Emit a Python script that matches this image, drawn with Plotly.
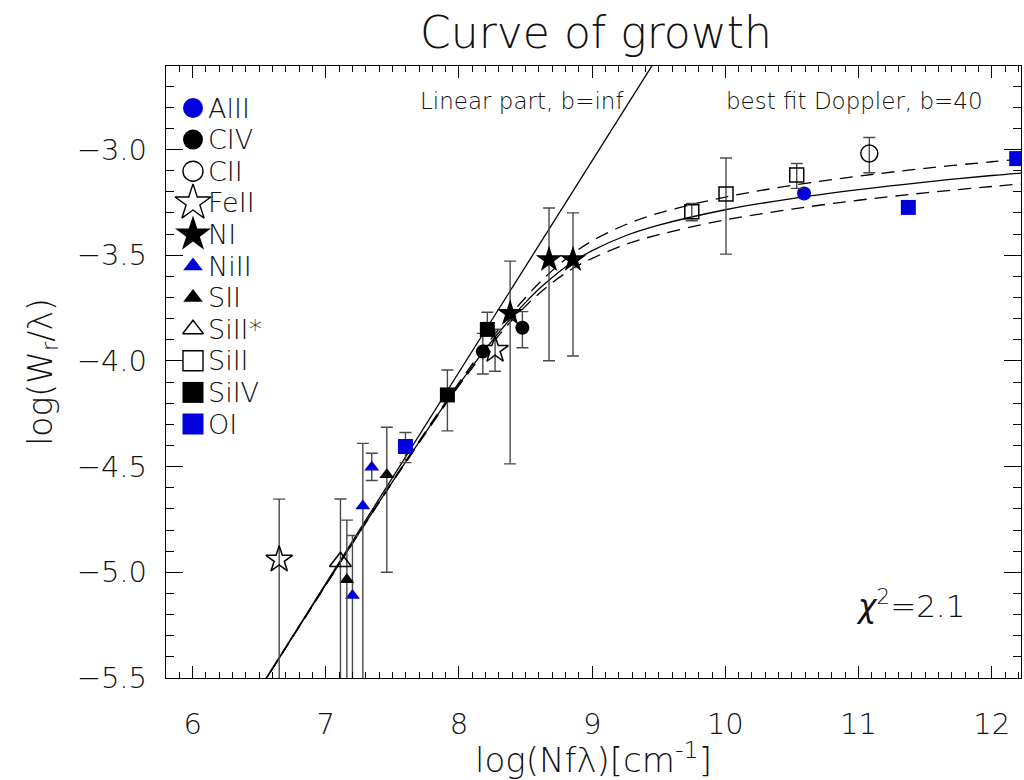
import plotly.graph_objects as go

# ---------------- measured lines (log Nf lambda, log W/lambda) ----------------
# species: x, y, upper error end, lower error end
alii_x = [10.591]
alii_y = [-3.208]
alii_hi = [-3.190]
alii_lo = [-3.226]

civ_x = [8.179, 8.476]
civ_y = [-3.956, -3.843]
civ_hi = [-3.870, -3.767]
civ_lo = [-4.062, -3.938]

cii_x = [11.081]
cii_y = [-3.019]
cii_hi = [-2.943]
cii_lo = [-3.110]

feii_x = [6.650, 8.271]
feii_y = [-4.940, -3.948]
feii_hi = [-4.654, -3.850]
feii_lo = [-5.900, -4.049]

ni_x = [8.384, 8.676, 8.856]
ni_y = [-3.775, -3.521, -3.521]
ni_hi = [-3.528, -3.277, -3.300]
ni_lo = [-4.487, -3.999, -3.977]

niii_x = [7.200, 7.278, 7.345]
niii_y = [-5.110, -4.686, -4.503]
niii_hi = [-4.826, -4.390, -4.437]
niii_lo = [-5.900, -5.900, -4.566]

sii_x = [7.158, 7.458]
sii_y = [-5.035, -4.539]
sii_hi = [-4.753, -4.314]
sii_lo = [-5.900, -5.000]

siiis_x = [7.110]
siiis_y = [-4.950]
siiis_hi = [-4.653]
siiis_lo = [-5.900]

siii_x = [9.748, 10.005, 10.536]
siii_y = [-3.295, -3.211, -3.121]
siii_hi = [-3.255, -3.040, -3.066]
siii_lo = [-3.337, -3.495, -3.184]

siiv_x = [7.913, 8.213]
siiv_y = [-4.161, -3.851]
siiv_hi = [-4.043, -3.770]
siiv_lo = [-4.331, -3.880]

oi_x = [7.598, 11.374, 12.188]
oi_y = [-4.405, -3.274, -3.043]
oi_hi = [-4.339, -3.245, -3.023]
oi_lo = [-4.481, -3.300, -3.063]

# ---------------- curves of growth ----------------
# linear part (b = inf)
lin_x = [6.40, 9.60]
lin_y = [-5.653, -2.453]

# Doppler curves: best fit (solid) and the two bounding ones (dashed)
cog_x = [6.5, 7.0, 7.5, 8.0, 8.2, 8.4, 8.5, 8.6, 8.7, 8.8, 8.9, 9.0,
         9.25, 9.5, 10.0, 10.5, 11.0, 11.5, 12.0, 12.25]
cog_best = [-5.555, -5.059, -4.572, -4.111, -3.943, -3.791, -3.723, -3.660,
            -3.605, -3.556, -3.514, -3.478, -3.408, -3.358, -3.285, -3.232,
            -3.190, -3.154, -3.123, -3.110]
cog_high = [-5.555, -5.058, -4.569, -4.103, -3.930, -3.772, -3.700, -3.633,
            -3.573, -3.519, -3.472, -3.432, -3.356, -3.301, -3.225, -3.170,
            -3.126, -3.089, -3.058, -3.044]
cog_low = [-5.556, -5.060, -4.575, -4.117, -3.954, -3.806, -3.741, -3.682,
           -3.630, -3.585, -3.546, -3.515, -3.449, -3.403, -3.333, -3.282,
           -3.240, -3.205, -3.175, -3.161]

FONT = "DejaVu Sans"
TXT = "#111"
BLUE = "#0000dd"
ERR = "#4a4a4a"

# figure geometry (pixels)
W, H = 1024, 780
ML, MR, MT, MB = 166, 3, 66, 102
PW, PH = W - ML - MR, H - MT - MB

# key drawn in the upper-left corner of the frame (pixel offsets inside the frame)
KEY_X, KEY_TEXT_X, KEY_TOP, KEY_STEP = 27, 40, 42, 31.6

fig = go.Figure()

# model curves
fig.add_trace(go.Scatter(x=lin_x, y=lin_y, mode="lines", showlegend=False,
                         line=dict(color="black", width=1.3), hoverinfo="skip"))
fig.add_trace(go.Scatter(x=cog_x, y=cog_best, mode="lines", showlegend=False,
                         line=dict(color="black", width=1.3, shape="spline"),
                         hoverinfo="skip"))
for ys in (cog_high, cog_low):
    fig.add_trace(go.Scatter(x=cog_x, y=ys, mode="lines", showlegend=False,
                             line=dict(color="black", width=1.3, shape="spline",
                                       dash="13px,8px"),
                             hoverinfo="skip"))

# name, data, symbol, colour, plot size, key size
species = [
    ("AlII", alii_x, alii_y, alii_hi, alii_lo, "circle", BLUE, 14, 20),
    ("CIV", civ_x, civ_y, civ_hi, civ_lo, "circle", "black", 14, 20),
    ("CII", cii_x, cii_y, cii_hi, cii_lo, "circle-open", "black", 17, 20),
    ("FeII", feii_x, feii_y, feii_hi, feii_lo, "star-open", "black", 20, 27),
    ("NI", ni_x, ni_y, ni_hi, ni_lo, "star", "black", 20, 27),
    ("NiII", niii_x, niii_y, niii_hi, niii_lo, "triangle-up", BLUE, 13, 17),
    ("SII", sii_x, sii_y, sii_hi, sii_lo, "triangle-up", "black", 13, 17),
    ("SiII*", siiis_x, siiis_y, siiis_hi, siiis_lo, "triangle-up-open", "black", 19, 18),
    ("SiII", siii_x, siii_y, siii_hi, siii_lo, "square-open", "black", 14, 20),
    ("SiIV", siiv_x, siiv_y, siiv_hi, siiv_lo, "square", "black", 15, 21),
    ("OI", oi_x, oi_y, oi_hi, oi_lo, "square", BLUE, 15, 21),
]

key_annotations = []
for i, (name, xs, ys, hi, lo, sym, col, size, key_size) in enumerate(species):
    plus = [h - y for h, y in zip(hi, ys)]
    minus = [y - l for l, y in zip(lo, ys)]
    is_open = sym.endswith("-open")
    fig.add_trace(go.Scatter(
        x=xs, y=ys, mode="markers", name=name, showlegend=False,
        marker=dict(symbol=sym, size=size, color=col,
                    line=dict(color=col, width=1.5 if is_open else 0)),
        error_y=dict(type="data", symmetric=False, array=plus, arrayminus=minus,
                     color=ERR, thickness=1.4, width=6),
    ))
    # key entry: symbol + label
    ky = KEY_TOP + i * KEY_STEP
    fig.add_trace(go.Scatter(
        x=[KEY_X], y=[ky], xaxis="x2", yaxis="y2", mode="markers",
        showlegend=False, hoverinfo="skip",
        marker=dict(symbol=sym, size=key_size, color=col,
                    line=dict(color=col, width=1.4 if is_open else 0)),
    ))
    key_annotations.append(dict(
        text=name, x=KEY_TEXT_X, y=ky, xref="x2", yref="y2", xanchor="left",
        yanchor="middle", showarrow=False,
        font=dict(family=FONT, size=27, color=TXT)))

axis_common = dict(
    showline=True, linecolor="black", linewidth=1.3, mirror="ticks",
    ticks="inside", tickcolor="black", tickwidth=1.2, showgrid=False,
    zeroline=False, tickfont=dict(family=FONT, size=29, color=TXT),
)

xaxis = dict(range=[5.8, 12.22], dtick=1, tick0=6, ticklen=12,
             minor=dict(ticks="inside", dtick=0.1, ticklen=6,
                        tickcolor="black", tickwidth=1),
             ticklabelstandoff=20,
             title=dict(text="log(Nfλ)[cm<sup>-1</sup>]", standoff=8,
                        font=dict(family=FONT, size=34, color=TXT)),
             **axis_common)
yaxis = dict(range=[-5.5, -2.605], dtick=0.5, tick0=-5.5, ticklen=17,
             tickformat=".1f",
             minor=dict(ticks="inside", dtick=0.1, ticklen=8,
                        tickcolor="black", tickwidth=1),
             ticklabelstandoff=12,
             title=dict(text="log(W<sub>r</sub>/λ)", standoff=14,
                        font=dict(family=FONT, size=33, color=TXT)),
             **axis_common)

fig.update_layout(
    width=W, height=H,
    margin=dict(l=ML, r=MR, t=MT, b=MB),
    paper_bgcolor="white", plot_bgcolor="white",
    font=dict(family=FONT, color=TXT, weight=200),
    showlegend=False,
    xaxis=xaxis,
    yaxis=yaxis,
    xaxis2=dict(overlaying="x", anchor="y2", range=[0, PW], visible=False,
                fixedrange=True),
    yaxis2=dict(overlaying="y", anchor="x2", range=[PH, 0], visible=False,
                fixedrange=True),
    title=dict(text="Curve of growth", x=596 / W, xanchor="center",
               y=1 - 33 / H, yanchor="middle",
               font=dict(family=FONT, size=44, color=TXT)),
    annotations=key_annotations + [
        dict(text="Linear part, b=inf", x=418 - ML, y=35, xref="x2", yref="y2",
             xanchor="left", yanchor="middle", showarrow=False,
             font=dict(family=FONT, size=23, color=TXT)),
        dict(text="best fit Doppler, b=40", x=724 - ML, y=35, xref="x2", yref="y2",
             xanchor="left", yanchor="middle", showarrow=False,
             font=dict(family=FONT, size=23, color=TXT)),
        dict(text="<i>χ</i><sup>2</sup>=2.1", x=11.39, y=-5.15, xref="x", yref="y",
             showarrow=False, font=dict(family=FONT, size=31, color=TXT)),
    ],
)

fig.write_html("out.html")
